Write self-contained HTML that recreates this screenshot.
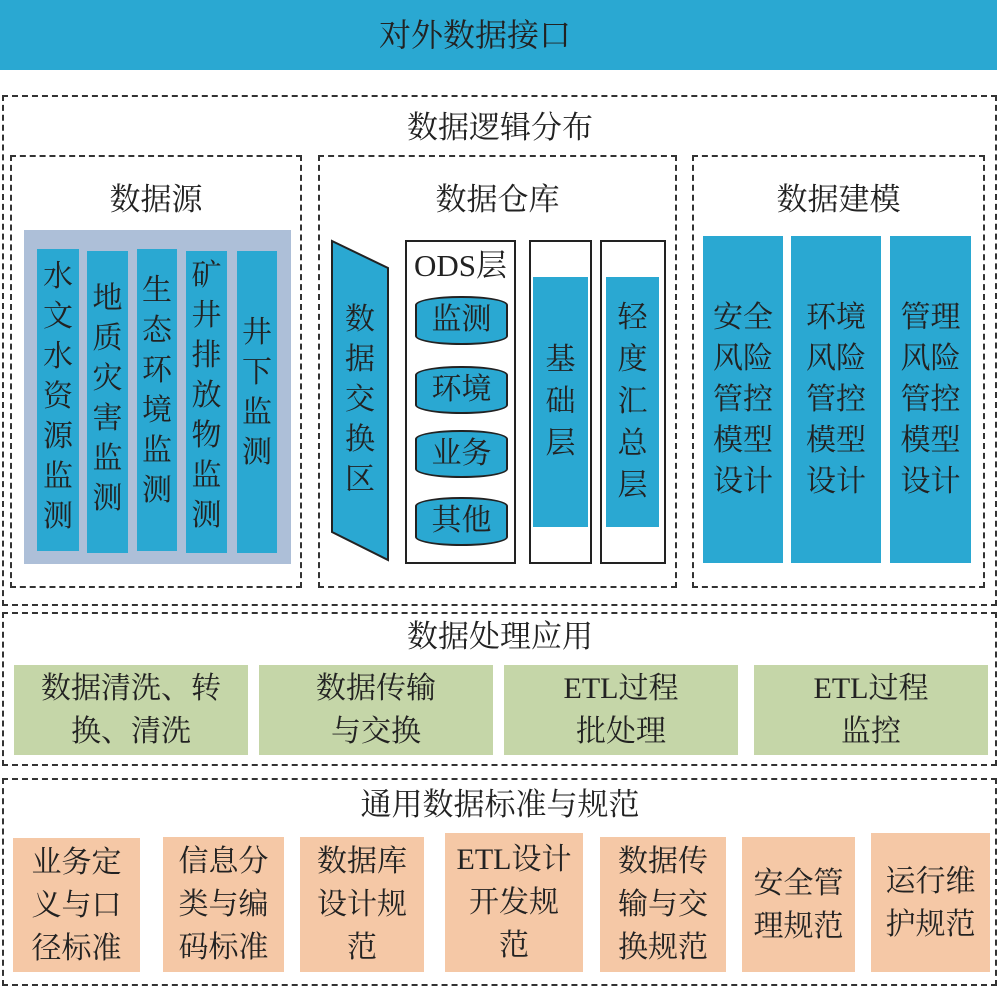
<!DOCTYPE html><html><head><meta charset="utf-8"><style>
body{margin:0;width:1000px;height:990px;background:#fff;position:relative;overflow:hidden;font-family:"Liberation Serif","Noto Serif CJK SC",serif;color:#222}
div{position:absolute;box-sizing:border-box}
.d{border:2px dashed #333}
.t{font-size:30px;text-align:center;line-height:1}
.v{background:#2aa8d2;font-size:30px;line-height:40px;text-align:center;display:flex;align-items:center;justify-content:center}
.w{border:2px solid #222;background:#fff}
.g{background:#c5d6a8;font-size:30px;line-height:43px;text-align:center;display:flex;align-items:center;justify-content:center}
.o{background:#f5c8a6;font-size:30px;line-height:43px;text-align:center;display:flex;align-items:center;justify-content:center}
.cy{background:#2aa8d2;border:2px solid #222;border-radius:46px/9px;font-size:30px;line-height:44px;text-align:center}
</style></head><body>
<div style="left:0;top:0;width:997px;height:70px;background:#2aa8d2"></div>
<div class="t" style="left:0;top:19px;width:950px;font-size:32px">对外数据接口</div>
<div class="d" style="left:2px;top:95px;width:995px;height:511px"></div>
<div class="t" style="left:0;top:112px;width:1000px;font-size:31px">数据逻辑分布</div>
<div class="d" style="left:10px;top:155px;width:292px;height:433px"></div>
<div class="d" style="left:318px;top:155px;width:359px;height:433px"></div>
<div class="d" style="left:692px;top:155px;width:293px;height:433px"></div>
<div class="t" style="left:10px;top:184px;width:292px;font-size:31px">数据源</div>
<div class="t" style="left:318px;top:184px;width:359px;font-size:31px">数据仓库</div>
<div class="t" style="left:692px;top:184px;width:293px;font-size:31px">数据建模</div>
<div style="left:24px;top:230px;width:267px;height:334px;background:#adbfd8"></div>
<div class="v" style="left:37px;top:249px;width:42px;height:302px;align-items:flex-start;padding-top:8px">水<br>文<br>水<br>资<br>源<br>监<br>测</div>
<div class="v" style="left:87px;top:251px;width:41px;height:302px;align-items:flex-start;padding-top:28px">地<br>质<br>灾<br>害<br>监<br>测</div>
<div class="v" style="left:137px;top:249px;width:40px;height:302px;align-items:flex-start;padding-top:22px">生<br>态<br>环<br>境<br>监<br>测</div>
<div class="v" style="left:186px;top:251px;width:41px;height:302px;align-items:flex-start;padding-top:5px">矿<br>井<br>排<br>放<br>物<br>监<br>测</div>
<div class="v" style="left:237px;top:251px;width:40px;height:302px;align-items:flex-start;padding-top:62px">井<br>下<br>监<br>测</div>
<svg style="position:absolute;left:0;top:0" width="1000" height="990"><polygon points="332,241 388,268 388,560 332,532" fill="#2aa8d2" stroke="#222" stroke-width="2"/></svg>
<div class="v" style="left:332px;top:268px;width:56px;height:264px;background:none">数<br>据<br>交<br>换<br>区</div>
<div class="w" style="left:405px;top:240px;width:111px;height:324px"></div>
<div class="t" style="left:405px;top:250px;width:111px;font-size:31px">ODS层</div>
<div class="cy" style="left:415px;top:296px;width:93px;height:49px">监测</div>
<div class="cy" style="left:415px;top:366px;width:93px;height:48px">环境</div>
<div class="cy" style="left:415px;top:430px;width:93px;height:48px">业务</div>
<div class="cy" style="left:415px;top:497px;width:93px;height:49px">其他</div>
<div class="w" style="left:529px;top:240px;width:63px;height:324px"></div>
<div class="v" style="left:533px;top:277px;width:55px;height:250px;line-height:42px">基<br>础<br>层</div>
<div class="w" style="left:600px;top:240px;width:66px;height:324px"></div>
<div class="v" style="left:606px;top:277px;width:53px;height:250px;line-height:42px">轻<br>度<br>汇<br>总<br>层</div>
<div class="v" style="left:703px;top:236px;width:80px;height:327px;line-height:41px">安全<br>风险<br>管控<br>模型<br>设计</div>
<div class="v" style="left:791px;top:236px;width:90px;height:327px;line-height:41px">环境<br>风险<br>管控<br>模型<br>设计</div>
<div class="v" style="left:890px;top:236px;width:81px;height:327px;line-height:41px">管理<br>风险<br>管控<br>模型<br>设计</div>
<div class="d" style="left:2px;top:612px;width:995px;height:154px"></div>
<div class="t" style="left:0;top:621px;width:1000px;font-size:31px">数据处理应用</div>
<div class="g" style="left:14px;top:665px;width:234px;height:90px">数据清洗、转<br>换、清洗</div>
<div class="g" style="left:259px;top:665px;width:234px;height:90px">数据传输<br>与交换</div>
<div class="g" style="left:504px;top:665px;width:234px;height:90px">ETL过程<br>批处理</div>
<div class="g" style="left:754px;top:665px;width:234px;height:90px">ETL过程<br>监控</div>
<div class="d" style="left:2px;top:778px;width:995px;height:208px"></div>
<div class="t" style="left:0;top:789px;width:1000px;font-size:31px">通用数据标准与规范</div>
<div class="o" style="left:13px;top:838px;width:127px;height:134px">业务定<br>义与口<br>径标准</div>
<div class="o" style="left:163px;top:837px;width:121px;height:135px">信息分<br>类与编<br>码标准</div>
<div class="o" style="left:300px;top:837px;width:124px;height:135px">数据库<br>设计规<br>范</div>
<div class="o" style="left:445px;top:833px;width:138px;height:139px">ETL设计<br>开发规<br>范</div>
<div class="o" style="left:600px;top:837px;width:126px;height:135px">数据传<br>输与交<br>换规范</div>
<div class="o" style="left:742px;top:837px;width:113px;height:135px">安全管<br>理规范</div>
<div class="o" style="left:871px;top:833px;width:119px;height:139px">运行维<br>护规范</div>
</body></html>
